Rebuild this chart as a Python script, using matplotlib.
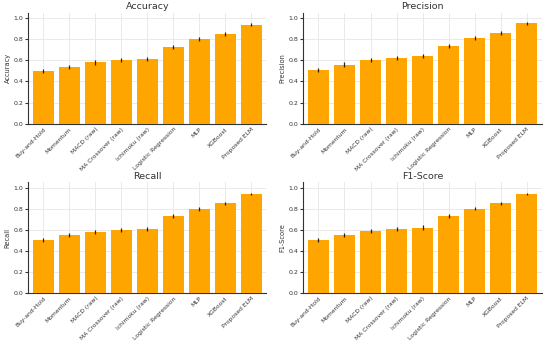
import matplotlib.pyplot as plt
import numpy as np

modelos = ["Buy-and-Hold", "Momentum", "MACD (raw)", "MA Crossover (raw)",
           "Ichimoku (raw)", "Logistic Regression", "MLP", "XGBoost", "Proposed ELM"]

accuracy = [0.50, 0.54, 0.58, 0.60, 0.61, 0.73, 0.80, 0.85, 0.94]
precision = [0.51, 0.56, 0.60, 0.62, 0.64, 0.74, 0.81, 0.86, 0.95]
recall = [0.50, 0.55, 0.58, 0.60, 0.61, 0.73, 0.80, 0.85, 0.94]
f1 = [0.50, 0.55, 0.59, 0.61, 0.62, 0.73, 0.80, 0.85, 0.94]

err_accuracy = [0.02, 0.02, 0.02, 0.02, 0.02, 0.02, 0.02, 0.015, 0.01]
err_precision = [0.02, 0.02, 0.02, 0.02, 0.02, 0.02, 0.02, 0.015, 0.01]
err_recall = [0.02, 0.02, 0.02, 0.02, 0.02, 0.02, 0.02, 0.015, 0.01]
err_f1 = [0.02, 0.02, 0.02, 0.02, 0.02, 0.02, 0.015, 0.015, 0.01]

metricas = [("Accuracy", accuracy, err_accuracy),
            ("Precision", precision, err_precision),
            ("Recall", recall, err_recall),
            ("F1-Score", f1, err_f1)]

fig, axes = plt.subplots(2, 2, figsize=(5.5, 3.41), dpi=100)
x = np.arange(len(modelos))

for ax, (nombre, valores, errores) in zip(axes.flat, metricas):
    ax.bar(x, valores, width=0.8, color="#FFA500", yerr=errores,
           error_kw=dict(ecolor="#222222", elinewidth=0.9, capsize=0), zorder=3)
    ax.set_title(nombre, fontsize=6.8, color="#333333", pad=2.5)
    ax.set_ylabel(nombre, fontsize=4.8, color="#333333", labelpad=2)
    ax.set_ylim(0, 1.05)
    ax.set_xlim(-0.58, len(modelos) - 0.42)
    ax.set_yticks([0.0, 0.2, 0.4, 0.6, 0.8, 1.0])
    ax.set_xticks(x)
    ax.set_xticklabels(modelos, rotation=45, ha="right", rotation_mode="anchor", fontsize=4.3)
    ax.tick_params(axis="y", labelsize=4.5, length=2, pad=1.5, colors="#333333")
    ax.tick_params(axis="x", length=0, pad=2, colors="#333333")
    ax.grid(True, color="#e6e6e6", linewidth=0.6, zorder=0)
    ax.set_axisbelow(True)
    for s in ["top", "right"]:
        ax.spines[s].set_visible(False)
    for s in ["left", "bottom"]:
        ax.spines[s].set_color("#333333")
        ax.spines[s].set_linewidth(0.8)

plt.subplots_adjust(left=0.051, right=0.985, top=0.962, bottom=0.141, wspace=0.155, hspace=0.53)
plt.savefig("out.png", dpi=100)
